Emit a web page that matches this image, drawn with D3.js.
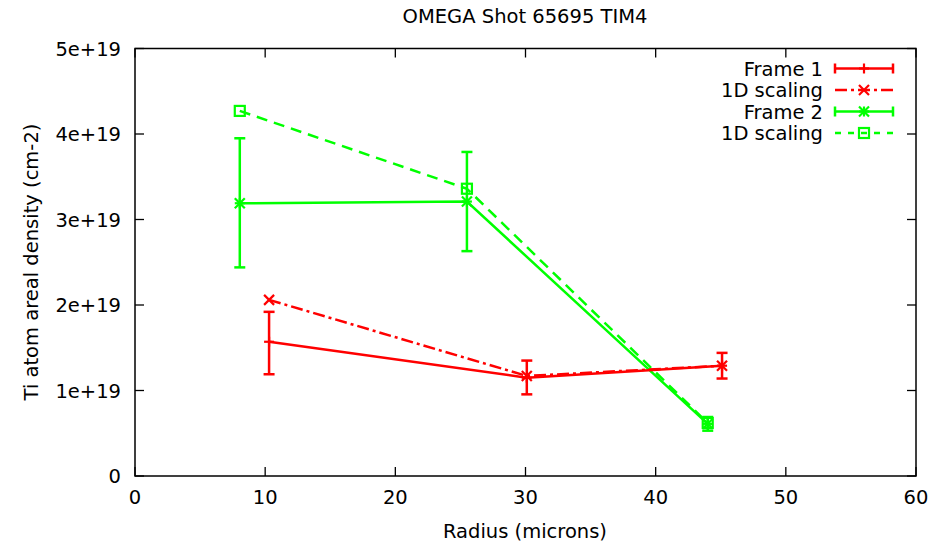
<!DOCTYPE html>
<html>
<head>
<meta charset="utf-8">
<script src="https://cdn.jsdelivr.net/npm/d3@7"></script>
<style>
  body { margin: 0; background: #fff; }
  svg text { font-family: "DejaVu Sans", sans-serif; fill: #000; }
</style>
</head>
<body>
<svg id="chart" width="949" height="542"></svg>
<script>
// Ti areal density vs radius, OMEGA shot 65695, TIM4
const frame1Radius = [10.3, 30.1, 45.1];
const frame1Value  = [1.57e19, 1.15e19, 1.29e19];
const frame1Low    = [1.19e19, 0.955e19, 1.14e19];
const frame1High   = [1.92e19, 1.35e19, 1.44e19];

const scaling1Radius = [10.3, 30.1, 45.1];
const scaling1Value  = [2.06e19, 1.17e19, 1.29e19];

const frame2Radius = [8.05, 25.5, 44.0];
const frame2Value  = [3.19e19, 3.21e19, 0.61e19];
const frame2Low    = [2.44e19, 2.63e19, 0.53e19];
const frame2High   = [3.95e19, 3.79e19, 0.69e19];

const scaling2Radius = [8.05, 25.5, 44.0];
const scaling2Value  = [4.27e19, 3.36e19, 0.62e19];

const xTicks = [0, 10, 20, 30, 40, 50, 60];
const yTicks = [0, 1e19, 2e19, 3e19, 4e19, 5e19];
const legendLabels = ["Frame 1", "1D scaling", "Frame 2", "1D scaling"];

const RED = "#ff0000", GREEN = "#00ff00";
const FONT = 19.5;

const svg = d3.select("#chart");
const m = { left: 135, right: 916, top: 48.5, bottom: 476 };

const x = d3.scaleLinear().domain([0, 60]).range([m.left, m.right]);
const y = d3.scaleLinear().domain([0, 5e19]).range([m.bottom, m.top]);

const fmtY = d => d === 0 ? "0" : (d / 1e19) + "e+19";

// ticks on all four sides, pointing inwards
const tickLen = 9;
const tg = svg.append("g").attr("stroke", "#000").attr("stroke-width", 1.3);
xTicks.forEach(t => {
  tg.append("line").attr("x1", x(t)).attr("x2", x(t)).attr("y1", m.bottom).attr("y2", m.bottom - tickLen);
  tg.append("line").attr("x1", x(t)).attr("x2", x(t)).attr("y1", m.top).attr("y2", m.top + tickLen);
});
yTicks.forEach(t => {
  tg.append("line").attr("x1", m.left).attr("x2", m.left + tickLen).attr("y1", y(t)).attr("y2", y(t));
  tg.append("line").attr("x1", m.right).attr("x2", m.right - tickLen).attr("y1", y(t)).attr("y2", y(t));
});

// tick labels
svg.append("g").selectAll("text").data(xTicks).join("text")
  .attr("x", d => x(d)).attr("y", 504)
  .attr("text-anchor", "middle").attr("font-size", FONT)
  .text(d => d);
svg.append("g").selectAll("text").data(yTicks).join("text")
  .attr("x", 121).attr("y", d => y(d) + 7)
  .attr("text-anchor", "end").attr("font-size", FONT)
  .text(fmtY);

// frame
svg.append("rect")
  .attr("x", m.left).attr("y", m.top)
  .attr("width", m.right - m.left).attr("height", m.bottom - m.top)
  .attr("fill", "none").attr("stroke", "#000").attr("stroke-width", 1.5);

// titles
svg.append("text").attr("x", 525).attr("y", 23).attr("text-anchor", "middle")
  .attr("font-size", FONT).text("OMEGA Shot 65695 TIM4");
svg.append("text").attr("x", 525).attr("y", 538).attr("text-anchor", "middle")
  .attr("font-size", FONT).text("Radius (microns)");
svg.append("text").attr("transform", "translate(38,262) rotate(-90)")
  .attr("text-anchor", "middle").attr("font-size", FONT)
  .text("Ti atom areal density (cm-2)");

// point symbols
function marker(g, type, cx, cy, color) {
  const s = 5;
  const p = g.append("g").attr("stroke", color).attr("stroke-width", 2.2).attr("fill", "none");
  if (type === "plus" || type === "star") {
    p.append("line").attr("x1", cx - s).attr("x2", cx + s).attr("y1", cy).attr("y2", cy);
    p.append("line").attr("x1", cx).attr("x2", cx).attr("y1", cy - s).attr("y2", cy + s);
  }
  if (type === "cross" || type === "star") {
    p.append("line").attr("x1", cx - s).attr("x2", cx + s).attr("y1", cy - s).attr("y2", cy + s);
    p.append("line").attr("x1", cx - s).attr("x2", cx + s).attr("y1", cy + s).attr("y2", cy - s);
  }
  if (type === "square") {
    p.append("rect").attr("x", cx - s).attr("y", cy - s).attr("width", 2 * s).attr("height", 2 * s);
  }
}

const plot = svg.append("g");
const line = d3.line().x(d => x(d[0])).y(d => y(d[1]));

function series(xs, vs, color, dash, type, lo, hi) {
  const pts = xs.map((r, i) => [r, vs[i]]);
  plot.append("path").datum(pts).attr("d", line)
    .attr("fill", "none").attr("stroke", color).attr("stroke-width", 2.5)
    .attr("stroke-dasharray", dash);
  if (lo) {
    const cap = 5.5;
    const eg = plot.append("g").attr("stroke", color).attr("stroke-width", 2.5);
    xs.forEach((r, i) => {
      eg.append("line").attr("x1", x(r)).attr("x2", x(r)).attr("y1", y(lo[i])).attr("y2", y(hi[i]));
      [lo[i], hi[i]].forEach(v => eg.append("line")
        .attr("x1", x(r) - cap).attr("x2", x(r) + cap).attr("y1", y(v)).attr("y2", y(v)));
    });
  }
  pts.forEach(p => marker(plot, type, x(p[0]), y(p[1]), color));
}

series(frame2Radius, frame2Value, GREEN, null, "star", frame2Low, frame2High);
series(scaling2Radius, scaling2Value, GREEN, "11,7", "square");
series(frame1Radius, frame1Value, RED, null, "plus", frame1Low, frame1High);
series(scaling1Radius, scaling1Value, RED, "12,4,3,4", "cross");

// legend
const legend = [
  { color: RED, dash: null, type: "plus", bars: true },
  { color: RED, dash: "12,4,3,4", type: "cross", bars: false },
  { color: GREEN, dash: null, type: "star", bars: true },
  { color: GREEN, dash: "6,7", type: "square", bars: false }
];
const lg = svg.append("g");
legend.forEach((d, i) => {
  const ly = 68.5 + i * 21.5;
  lg.append("text").attr("x", 823).attr("y", ly + 7).attr("text-anchor", "end")
    .attr("font-size", FONT).text(legendLabels[i]);
  lg.append("line").attr("x1", 835).attr("x2", 893).attr("y1", ly).attr("y2", ly)
    .attr("stroke", d.color).attr("stroke-width", 2.5).attr("stroke-dasharray", d.dash);
  if (d.bars) {
    [835, 893].forEach(bx => lg.append("line").attr("x1", bx).attr("x2", bx)
      .attr("y1", ly - 5).attr("y2", ly + 5).attr("stroke", d.color).attr("stroke-width", 2.5));
  }
  marker(lg, d.type, 864, ly, d.color);
});
</script>
</body>
</html>
